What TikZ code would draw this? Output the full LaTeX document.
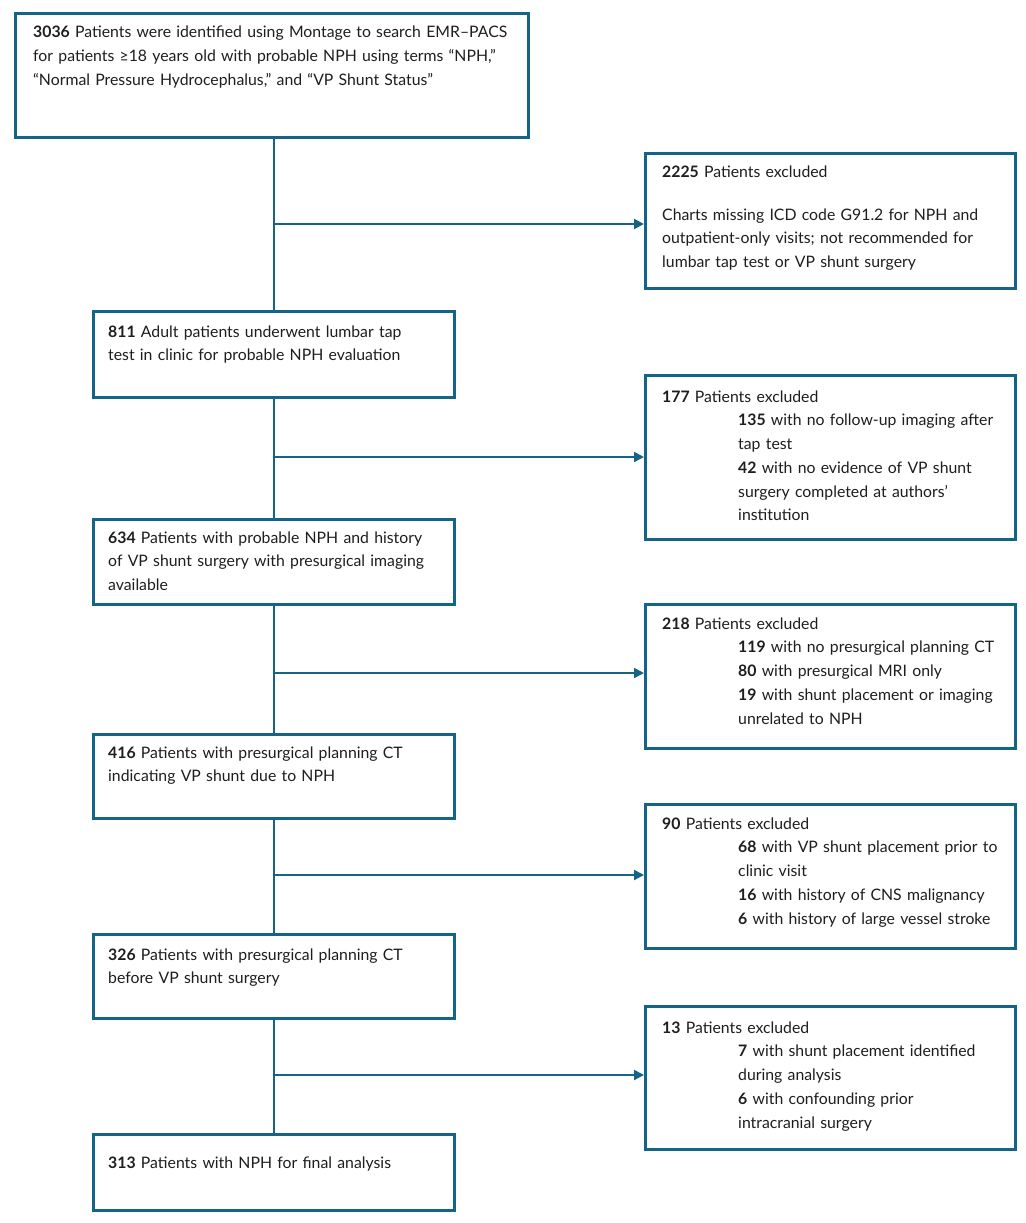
\documentclass[tikz,border=0pt]{standalone}
\usepackage{fontspec}
\setmainfont{Lato}
\usetikzlibrary{arrows.meta}
\definecolor{flow}{RGB}{22,99,136}
\definecolor{ink}{RGB}{30,30,30}
\newcommand{\exind}{\hspace*{76pt}}
\begin{document}
\begin{tikzpicture}[x=1pt,y=-1pt,
  box/.style={draw=flow, line width=2.6pt, inner sep=0pt, anchor=north west, fill=white},
  txt/.style={anchor=base west, inner sep=0pt, align=left, text width=#1, text=ink,
    font=\fontsize{15.8}{23.75}\selectfont},
  link/.style={draw=flow, line width=2pt},
  arr/.style={link, -{Triangle[length=10pt,width=10pt]}}]
\useasboundingbox[fill=white] (0,0) rectangle (1025,1223);

% main boxes
\node[box, minimum width=513pt, minimum height=124pt] (b1) at (14,12) {};
\node[box, minimum width=361pt, minimum height=86pt] (b2) at (92,310) {};
\node[box, minimum width=361pt, minimum height=85pt] (b3) at (92,518) {};
\node[box, minimum width=361pt, minimum height=84pt] (b4) at (92,733) {};
\node[box, minimum width=361pt, minimum height=84pt] (b5) at (92,933) {};
\node[box, minimum width=361pt, minimum height=76pt] (b6) at (92,1133) {};

% exclusion boxes
\node[box, minimum width=370pt, minimum height=135pt] (e1) at (644,152) {};
\node[box, minimum width=370pt, minimum height=164pt] (e2) at (644,374) {};
\node[box, minimum width=370pt, minimum height=144pt] (e3) at (644,603) {};
\node[box, minimum width=370pt, minimum height=144pt] (e4) at (644,803) {};
\node[box, minimum width=370pt, minimum height=143pt] (e5) at (644,1005) {};

% vertical connectors
\draw[link] (b2.north |- b1.south) -- (b2.north);
\draw[link] (b2.south) -- (b3.north);
\draw[link] (b3.south) -- (b4.north);
\draw[link] (b4.south) -- (b5.north);
\draw[link] (b5.south) -- (b6.north);

% junctions and arrows
\coordinate (j1) at (272.5,224);
\coordinate (j2) at (272.5,457);
\coordinate (j3) at (272.5,673);
\coordinate (j4) at (272.5,875);
\coordinate (j5) at (272.5,1075);
\draw[arr] (j1) -- (j1 -| e1.west);
\draw[arr] (j2) -- (j2 -| e2.west);
\draw[arr] (j3) -- (j3 -| e3.west);
\draw[arr] (j4) -- (j4 -| e4.west);
\draw[arr] (j5) -- (j5 -| e5.west);

% main texts
\node[txt=560pt] (t1) at (33,38) {\textbf{3036} Patients were identified using Montage to search EMR–PACS\\
for patients ≥18 years old with probable NPH using terms “NPH,”\\
“Normal Pressure Hydrocephalus,” and “VP Shunt Status”};
\node[txt=420pt] (t2) at (108,337) {\textbf{811} Adult patients underwent lumbar tap\\
test in clinic for probable NPH evaluation};
\node[txt=420pt] (t3) at (108,543) {\textbf{634} Patients with probable NPH and history\\
of VP shunt surgery with presurgical imaging\\
available};
\node[txt=420pt] (t4) at (108,758) {\textbf{416} Patients with presurgical planning CT\\
indicating VP shunt due to NPH};
\node[txt=420pt] (t5) at (108,960) {\textbf{326} Patients with presurgical planning CT\\
before VP shunt surgery};
\node[txt=420pt] (t6) at (108,1168) {\textbf{313} Patients with NPH for final analysis};

% exclusion texts
\node[txt=420pt] (x1) at (662,177) {\textbf{2225} Patients excluded\\[19.25pt]
Charts missing ICD code G91.2 for NPH and\\
outpatient-only visits; not recommended for\\
lumbar tap test or VP shunt surgery};
\node[txt=420pt] (x2) at (662,402) {\textbf{177} Patients excluded\\
\exind\textbf{135} with no follow-up imaging after\\
\exind tap test\\
\exind\textbf{42} with no evidence of VP shunt\\
\exind surgery completed at authors’\\
\exind institution};
\node[txt=420pt] (x3) at (662,629) {\textbf{218} Patients excluded\\
\exind\textbf{119} with no presurgical planning CT\\
\exind\textbf{80} with presurgical MRI only\\
\exind\textbf{19} with shunt placement or imaging\\
\exind unrelated to NPH};
\node[txt=420pt] (x4) at (662,829) {\textbf{90} Patients excluded\\
\exind\textbf{68} with VP shunt placement prior to\\
\exind clinic visit\\
\exind\textbf{16} with history of CNS malignancy\\
\exind\textbf{6} with history of large vessel stroke};
\node[txt=420pt] (x5) at (662,1033) {\textbf{13} Patients excluded\\
\exind\textbf{7} with shunt placement identified\\
\exind during analysis\\
\exind\textbf{6} with confounding prior\\
\exind intracranial surgery};
\end{tikzpicture}
\end{document}
